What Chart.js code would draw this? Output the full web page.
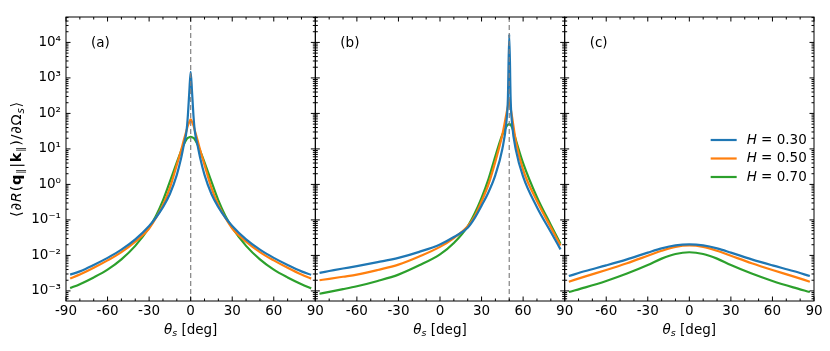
<!DOCTYPE html>
<html>
<head>
<meta charset="utf-8">
<script src="https://cdn.jsdelivr.net/npm/chart.js@4.4.1/dist/chart.umd.min.js"></script>
<style>
  html, body { margin: 0; padding: 0; background: #fff; }
  #wrap { width: 830px; height: 351px; }
</style>
</head>
<body>
<div id="wrap"><canvas id="myChart" width="830" height="351"></canvas></div>
<script>
// ---- data ----
const hValues = ["0.30", "0.50", "0.70"];
const panelNames = ["(a)", "(b)", "(c)"];

const xTicks = [-90, -60, -30, 0, 30, 60, 90];
const yTicks = [1e-3, 1e-2, 1e-1, 1e0, 1e1, 1e2, 1e3, 1e4];
const yTickLabels = ["10\u207B\u00B3", "10\u207B\u00B2", "10\u207B\u00B9", "10\u2070", "10\u00B9", "10\u00B2", "10\u00B3", "10\u2074"];

// panel (a)
const thetaA = [-87, -80, -70, -60, -50, -40, -30, -25, -20, -15, -10, -7, -5, -3, -2, -1, 0,
  1, 2, 3, 5, 7, 10, 15, 20, 25, 30, 40, 50, 60, 70, 80, 87];
const aH30 = [2.88e-3, 3.55e-3, 5.37e-3, 8.51e-3, 1.45e-2, 2.82e-2, 6.76e-2, 0.117, 0.229, 0.537, 1.86, 5.25, 12.6, 31.6, 89.1, 398, 1480,
  398, 89.1, 31.6, 12.6, 5.25, 1.86, 0.537, 0.229, 0.117, 6.76e-2, 2.82e-2, 1.45e-2, 8.51e-3, 5.37e-3, 3.55e-3, 2.85e-3];
const aH50 = [2.24e-3, 2.88e-3, 4.47e-3, 7.24e-3, 1.24e-2, 2.45e-2, 5.75e-2, 0.115, 0.263, 0.794, 3.55, 8.91, 17.4, 33.1, 45.7, 57.5, 67.6,
  57.5, 45.7, 33.1, 17.4, 8.91, 3.55, 0.794, 0.263, 0.115, 5.75e-2, 2.45e-2, 1.24e-2, 7.24e-3, 4.47e-3, 2.88e-3, 2.22e-3];
const aH70 = [1.2e-3, 1.55e-3, 2.4e-3, 3.98e-3, 7.76e-3, 1.86e-2, 6.03e-2, 0.132, 0.355, 1.2, 4.17, 8.51, 13.2, 18.6, 20.4, 21.4, 21.9,
  21.4, 20.4, 18.6, 13.2, 8.51, 4.17, 1.2, 0.355, 0.132, 6.03e-2, 1.86e-2, 7.76e-3, 3.98e-3, 2.4e-3, 1.55e-3, 1.18e-3];

// panel (b)
const thetaB = [-87, -80, -70, -60, -45, -30, -15, 0, 10, 20, 25, 30, 35, 40, 45, 48, 49, 50, 51, 52, 55, 60, 70, 80, 87];
const bH30 = [3.24e-3, 3.63e-3, 4.27e-3, 5.01e-3, 6.46e-3, 8.51e-3, 1.26e-2, 2.04e-2, 3.31e-2, 6.03e-2, 0.112, 0.251, 0.603, 1.86, 10.0, 60.3, 251, 17000,
  251, 52.5, 8.51, 1.66, 0.229, 4.57e-2, 1.48e-2];
const bH50 = [2.0e-3, 2.19e-3, 2.51e-3, 2.88e-3, 3.89e-3, 5.5e-3, 9.33e-3, 1.74e-2, 3.09e-2, 6.61e-2, 0.126, 0.331, 1.0, 4.47, 25.1, 100, 158, 240,
  141, 81.3, 14.5, 2.57, 0.339, 6.17e-2, 1.91e-2];
const bH70 = [8.32e-4, 9.44e-4, 1.12e-3, 1.35e-3, 1.91e-3, 2.88e-3, 5.25e-3, 1.07e-2, 2.24e-2, 6.61e-2, 0.151, 0.417, 1.41, 6.31, 25.1, 42.7, 47.9, 50.1,
  47.9, 40.7, 16.6, 3.98, 0.437, 7.24e-2, 2.14e-2];

// panel (c)
const thetaC = [-87, -75, -60, -45, -30, -20, -10, 0, 10, 20, 30, 45, 60, 75, 87];
const cH30 = [2.63e-3, 3.63e-3, 5.25e-3, 7.76e-3, 1.2e-2, 1.58e-2, 1.91e-2, 2.04e-2, 1.91e-2, 1.58e-2, 1.2e-2, 7.76e-3, 5.25e-3, 3.63e-3, 2.63e-3];
const cH50 = [1.82e-3, 2.57e-3, 3.89e-3, 6.03e-3, 9.77e-3, 1.35e-2, 1.74e-2, 1.91e-2, 1.74e-2, 1.35e-2, 9.77e-3, 6.03e-3, 3.89e-3, 2.57e-3, 1.82e-3];
const cH70 = [9.33e-4, 1.26e-3, 1.91e-3, 3.09e-3, 5.37e-3, 8.13e-3, 1.1e-2, 1.23e-2, 1.1e-2, 8.13e-3, 5.37e-3, 3.09e-3, 1.91e-3, 1.26e-3, 9.33e-4];

// dashed guide lines: [axis, theta]
const refLines = [["xa", 0], ["xb", 50]];

const colors = { blue: "#1f77b4", orange: "#ff7f0e", green: "#2ca02c" };
const lineColors = [colors.blue, colors.orange, colors.green];
const FONT = "'DejaVu Sans', sans-serif";

function series(xs, ys, idx, axis) {
  return {
    label: "H = " + hValues[idx],
    data: xs.map((x, i) => ({ x: x, y: ys[i] })),
    xAxisID: axis,
    yAxisID: "y",
    borderColor: lineColors[idx],
    backgroundColor: lineColors[idx],
    borderWidth: 2.2,
    borderJoinStyle: "round",
    pointRadius: 0,
    fill: false,
    cubicInterpolationMode: "monotone"
  };
}

// draws a run of text pieces: [text, style ("n"|"i"|"b"), subscript?]
function drawRich(ctx, parts, x, y, size, align, gap) {
  gap = gap || 0;
  const fontFor = p => {
    const s = p[2] ? size * 0.7 : size;
    const st = p[1] === "i" ? "italic " : p[1] === "b" ? "bold " : "";
    return st + s + "px " + FONT;
  };
  let total = 0;
  const widths = parts.map(p => {
    ctx.font = fontFor(p);
    const w = ctx.measureText(p[0]).width + gap;
    total += w;
    return w;
  });
  let cx = align === "center" ? x - total / 2 : x;
  parts.forEach((p, i) => {
    ctx.font = fontFor(p);
    ctx.fillText(p[0], cx, p[2] ? y + size * 0.28 : y);
    cx += widths[i];
  });
}

const panelDecor = {
  id: "panelDecor",
  afterDatasetsDraw(chart) {
    const ctx = chart.ctx;
    const area = chart.chartArea;
    const ys = chart.scales.y;
    const panels = [chart.scales.xa, chart.scales.xb, chart.scales.xc];
    const t = area.top, b = area.bottom;
    const seg = (x1, y1, x2, y2) => { ctx.beginPath(); ctx.moveTo(x1, y1); ctx.lineTo(x2, y2); ctx.stroke(); };
    ctx.save();

    ctx.strokeStyle = "rgba(128,128,128,0.9)";
    ctx.lineWidth = 1.3;
    ctx.setLineDash([5, 3]);
    refLines.forEach(([id, v]) => {
      const px = chart.scales[id].getPixelForValue(v);
      seg(px, t, px, b);
    });
    ctx.setLineDash([]);

    ctx.strokeStyle = "#000";
    ctx.lineWidth = 1;
    panels.forEach(s => {
      const l = s.left, r = s.right;
      ctx.strokeRect(l, t, r - l, b - t);
      for (let v = -90; v <= 90; v += 10) {
        const len = v % 30 === 0 ? 4.5 : 2.5;
        const px = s.getPixelForValue(v);
        seg(px, t, px, t + len);
        seg(px, b, px, b - len);
      }
      for (let e = -4; e <= 4; e++) {
        for (let m = 1; m <= 9; m++) {
          const v = m * Math.pow(10, e);
          if (v < ys.min || v > ys.max) continue;
          const py = ys.getPixelForValue(v);
          const len = m === 1 ? 4.5 : 2.5;
          seg(l, py, l + len, py);
          seg(r, py, r - len, py);
        }
      }
    });
    ctx.restore();
  },
  afterDraw(chart) {
    const ctx = chart.ctx;
    const area = chart.chartArea;
    const panels = [chart.scales.xa, chart.scales.xb, chart.scales.xc];
    ctx.save();
    ctx.fillStyle = "#000";
    ctx.textBaseline = "middle";

    panels.forEach((s, k) => {
      ctx.font = "13.5px " + FONT;
      ctx.textAlign = "left";
      ctx.fillText(panelNames[k], s.left + 25, area.top + 26);
      drawRich(ctx, [["\u03B8", "i"], ["s", "i", true], [" [deg]", "n"]], (s.left + s.right) / 2, 330, 13.5, "center");
    });

    // legend inside panel (c)
    const pc = chart.scales.xc;
    const rows = [140, 158.5, 177];
    chart.data.datasets.slice(6, 9).forEach((ds, i) => {
      ctx.strokeStyle = ds.borderColor;
      ctx.lineWidth = 2.2;
      ctx.beginPath();
      ctx.moveTo(pc.left + 146, rows[i]);
      ctx.lineTo(pc.left + 172, rows[i]);
      ctx.stroke();
      drawRich(ctx, [["H", "i"], [" = " + hValues[i], "n"]], pc.left + 182, rows[i], 13.5, "left");
    });

    // y axis title
    ctx.translate(17, (area.top + area.bottom) / 2);
    ctx.rotate(-Math.PI / 2);
    drawRich(ctx, [
      ["\u27E8", "n"], ["\u2202", "n"], ["R", "i"], ["(", "n"], ["q", "b"], ["\u2225", "n", true],
      ["|", "n"], ["k", "b"], ["\u2225", "n", true], [")", "n"], ["/", "n"], ["\u2202", "n"],
      ["\u03A9", "n"], ["s", "i", true], ["\u27E9", "n"]
    ], 0, 0, 14.5, "center", 0.8);
    ctx.restore();
  }
};

function xAxis(hideFirst) {
  return {
    type: "linear",
    position: "bottom",
    stack: "panels",
    min: -90,
    max: 90,
    afterBuildTicks: s => { s.ticks = xTicks.map(v => ({ value: v })); },
    afterFit: s => { s.height = 50; },
    ticks: {
      autoSkip: false,
      maxRotation: 0,
      padding: 2,
      color: "#000",
      font: { family: FONT, size: 13.5 },
      callback: v => (hideFirst && v === -90) ? "" : String(v)
    },
    grid: { display: false, drawTicks: false },
    border: { display: false }
  };
}

const datasets = [
  series(thetaA, aH30, 0, "xa"), series(thetaA, aH50, 1, "xa"), series(thetaA, aH70, 2, "xa"),
  series(thetaB, bH30, 0, "xb"), series(thetaB, bH50, 1, "xb"), series(thetaB, bH70, 2, "xb"),
  series(thetaC, cH30, 0, "xc"), series(thetaC, cH50, 1, "xc"), series(thetaC, cH70, 2, "xc")
];

const ctx = document.getElementById("myChart").getContext("2d");
new Chart(ctx, {
  type: "line",
  data: { datasets: datasets },
  options: {
    responsive: false,
    animation: false,
    devicePixelRatio: 1,
    layout: { padding: { top: 17, right: 16, bottom: 0, left: 0 } },
    plugins: { legend: { display: false }, tooltip: { enabled: false } },
    scales: {
      xa: xAxis(false),
      xb: xAxis(true),
      xc: xAxis(true),
      y: {
        type: "logarithmic",
        position: "left",
        min: 5.2e-4,
        max: 5.2e4,
        afterBuildTicks: s => { s.ticks = yTicks.map(v => ({ value: v })); },
        afterFit: s => { s.width = 66; },
        ticks: {
          padding: 5,
          color: "#000",
          font: { family: FONT, size: 13.5 },
          callback: (v, i) => yTickLabels[i]
        },
        grid: { display: false, drawTicks: false },
        border: { display: false }
      }
    }
  },
  plugins: [panelDecor]
});
</script>
</body>
</html>
